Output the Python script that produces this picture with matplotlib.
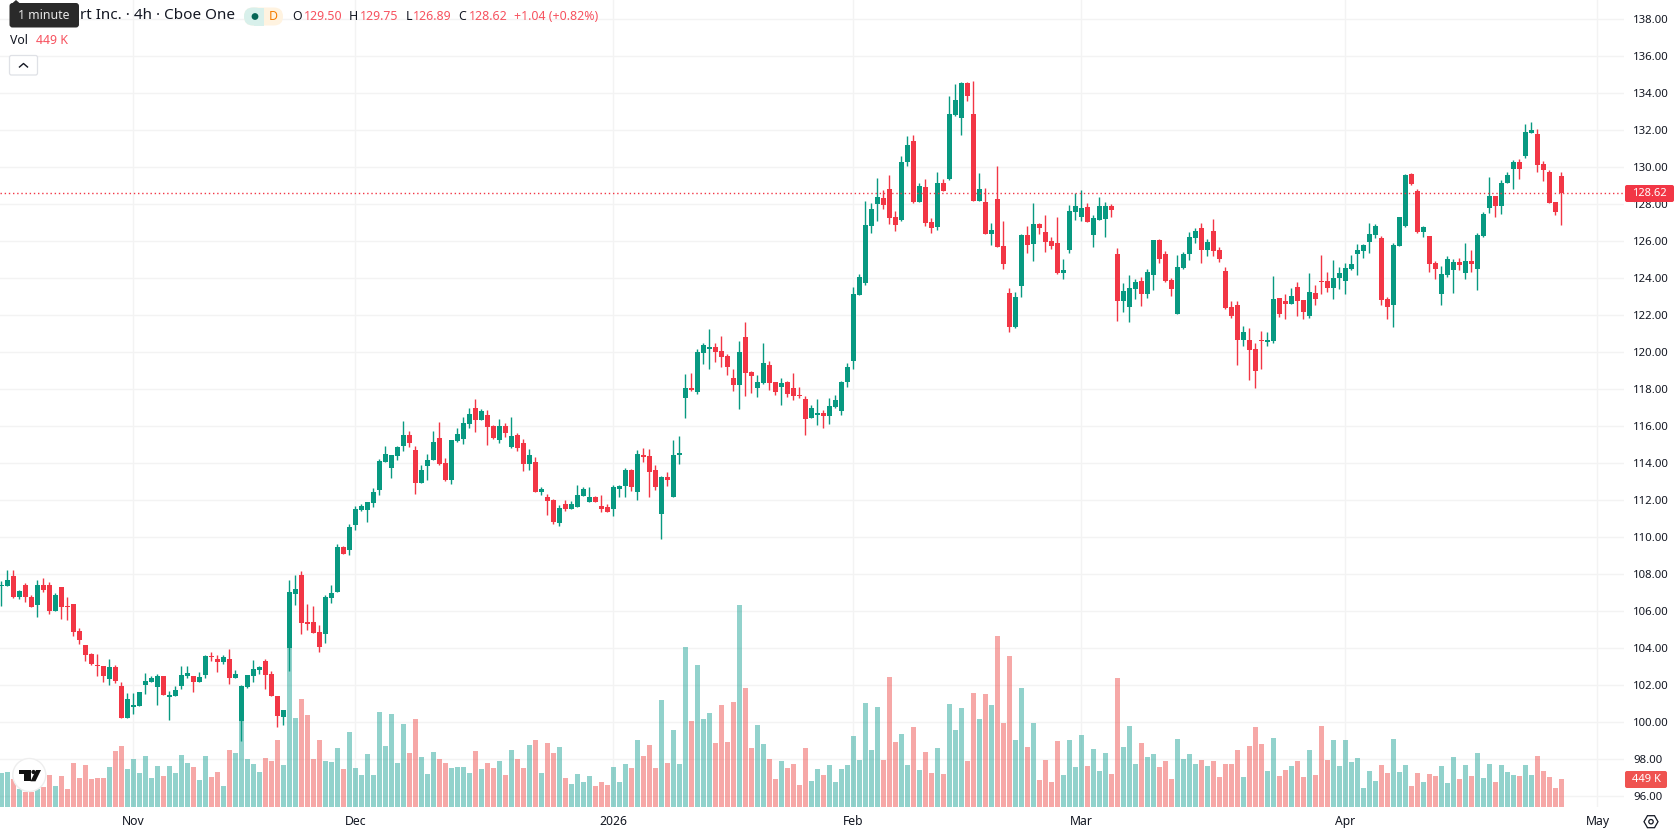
import matplotlib
matplotlib.use('Agg')
import matplotlib.pyplot as plt
from matplotlib.patches import Circle, FancyBboxPatch, Polygon, Rectangle

plt.rcParams['font.family'] = ['Noto Sans', 'DejaVu Sans']

# 4h candles, oldest first
opens = [
    107.32, 107.32, 107.86, 106.72, 107.37, 106.77, 106.29, 107.37, 107.42, 105.96,
    107.26, 106.23, 106.34, 104.88, 104.13, 103.64, 103.05, 103.0, 102.29, 102.94,
    101.91, 100.18, 100.77, 100.83, 101.96, 102.13, 101.86, 102.45, 101.32, 101.37,
    101.91, 102.45, 102.45, 102.13, 102.5, 103.53, 103.37, 103.21, 103.37, 102.34,
    100.02, 101.86, 102.45, 102.77, 103.26, 102.56, 101.37, 100.23, 103.96, 106.88,
    107.91, 105.37, 105.37, 104.83, 104.72, 106.67, 107.03, 109.47, 109.3, 110.66,
    111.47, 111.47, 111.85, 112.55, 114.07, 113.74, 114.39, 114.94, 115.53, 114.72,
    112.93, 113.85, 114.18, 115.37, 114.01, 113.09, 115.21, 115.31, 116.13, 116.99,
    116.34, 116.61, 116.02, 115.26, 116.02, 114.88, 115.53, 115.1, 113.96, 114.07,
    112.44, 112.17, 112.01, 110.77, 111.8, 111.53, 111.59, 112.23, 111.91, 112.18,
    111.69, 111.59, 111.53, 112.61, 112.77, 113.64, 112.4, 114.45, 114.4, 113.59,
    111.26, 113.26, 112.13, 114.45, 117.53, 118.07, 117.86, 119.96, 120.18, 120.29,
    120.07, 119.8, 118.61, 118.23, 120.83, 118.94, 118.07, 118.34, 119.32, 118.4,
    118.13, 118.4, 118.07, 117.69, 117.48, 116.45, 116.61, 116.72, 116.56, 117.05,
    116.83, 118.4, 119.53, 123.1, 123.75, 126.83, 128.02, 128.34, 128.83, 127.31,
    127.15, 130.29, 131.42, 128.13, 128.94, 127.05, 126.77, 129.15, 129.37, 132.83,
    132.67, 134.56, 132.88, 128.18, 128.13, 126.4, 128.29, 125.75, 123.21, 121.37,
    123.59, 126.34, 125.86, 126.94, 126.5, 126.02, 125.91, 124.29, 125.53, 127.59,
    127.32, 127.86, 126.34, 127.15, 127.21, 127.91, 125.32, 122.77, 122.45, 123.42,
    123.86, 123.15, 124.18, 126.07, 125.32, 123.91, 122.07, 124.56, 125.32, 126.18,
    126.72, 125.53, 126.56, 125.53, 124.4, 122.45, 122.56, 120.67, 120.67, 120.18,
    120.67, 120.56, 120.61, 122.94, 122.77, 122.61, 123.53, 122.83, 121.96, 123.21,
    123.86, 123.86, 123.48, 124.02, 123.86, 124.5, 125.32, 125.48, 125.96, 126.34,
    126.18, 122.88, 122.56, 125.75, 126.83, 129.64, 128.72, 126.5, 126.29, 124.83,
    123.15, 124.18, 124.45, 124.88, 124.29, 124.94, 124.5, 126.29, 127.8, 128.45,
    127.91, 129.15, 129.91, 130.29, 130.61, 131.86, 131.8, 130.18, 129.75, 128.13,
    129.50,
]
highs = [
    107.59, 108.18, 108.23, 107.1, 107.48, 106.83, 107.64, 107.75, 107.53, 106.94,
    107.26, 106.72, 106.34, 105.05, 104.13, 103.69, 103.64, 103.0, 103.37, 103.05,
    102.13, 101.53, 101.53, 101.59, 102.61, 102.45, 102.56, 102.45, 101.64, 101.91,
    102.99, 102.99, 102.45, 102.67, 103.59, 103.75, 103.59, 103.59, 103.91, 102.77,
    101.96, 102.5, 103.32, 102.99, 103.37, 102.72, 101.37, 100.61, 107.69, 107.91,
    108.13, 106.34, 106.23, 105.21, 106.83, 107.42, 109.63, 109.52, 110.71, 111.69,
    111.79, 111.9, 112.66, 114.23, 114.94, 114.45, 114.94, 116.29, 115.75, 114.94,
    113.91, 114.5, 115.75, 116.23, 114.29, 115.26, 115.91, 116.51, 116.99, 117.48,
    116.94, 116.88, 116.07, 116.4, 116.18, 116.51, 115.64, 115.31, 114.77, 114.34,
    112.72, 112.34, 112.07, 111.74, 112.02, 111.96, 112.83, 112.67, 112.72, 112.23,
    112.29, 111.8, 112.83, 112.83, 113.75, 113.69, 114.72, 114.83, 114.77, 113.91,
    113.31, 113.53, 115.26, 115.48, 118.83, 118.88, 120.18, 120.5, 121.26, 120.5,
    120.88, 119.91, 119.1, 120.61, 121.64, 118.99, 118.77, 120.5, 119.53, 118.4,
    118.61, 118.45, 118.88, 118.13, 117.64, 117.15, 117.48, 116.88, 117.53, 117.69,
    118.45, 119.42, 123.53, 124.23, 128.18, 128.07, 129.42, 128.77, 129.59, 127.64,
    130.61, 131.69, 131.75, 129.15, 129.37, 127.26, 129.75, 129.37, 133.86, 134.5,
    134.61, 134.61, 134.67, 129.69, 128.88, 126.99, 130.07, 127.1, 123.48, 123.26,
    126.4, 126.83, 128.07, 126.99, 127.42, 126.23, 127.32, 125.05, 127.96, 128.61,
    128.77, 128.07, 127.42, 128.4, 128.13, 128.02, 125.64, 123.75, 124.18, 123.96,
    124.07, 124.5, 126.07, 126.13, 125.48, 124.02, 125.26, 125.42, 126.5, 126.72,
    126.99, 126.13, 127.21, 125.69, 124.61, 122.77, 122.77, 121.42, 121.31, 120.5,
    121.15, 121.1, 124.13, 122.94, 123.15, 123.48, 123.8, 122.83, 124.29, 123.64,
    125.26, 124.34, 124.99, 124.61, 124.83, 125.26, 125.86, 125.86, 126.99, 126.94,
    126.29, 122.99, 125.91, 127.32, 129.64, 129.69, 128.83, 126.83, 126.29, 124.94,
    124.67, 125.21, 125.05, 125.1, 125.91, 125.53, 126.45, 127.59, 129.48, 128.45,
    129.32, 129.75, 130.4, 130.45, 132.34, 132.45, 132.07, 130.34, 129.86, 128.13,
    129.75,
]
lows = [
    106.25, 107.32, 106.67, 106.61, 106.5, 106.18, 105.64, 106.99, 105.8, 105.96,
    105.53, 105.48, 104.61, 104.18, 103.26, 103.05, 102.45, 102.13, 101.96, 102.07,
    100.18, 100.18, 100.4, 100.83, 101.48, 102.13, 100.88, 101.42, 100.07, 101.37,
    101.75, 102.34, 101.59, 102.13, 102.34, 103.26, 102.67, 103.1, 102.02, 102.34,
    98.94, 101.8, 102.13, 102.56, 101.75, 101.37, 99.69, 99.8, 102.72, 106.29,
    104.72, 104.94, 104.77, 103.75, 104.23, 106.4, 107.03, 109.09, 109.03, 110.39,
    111.42, 110.82, 111.63, 112.28, 114.07, 113.2, 114.18, 114.66, 114.88, 112.34,
    112.93, 113.09, 114.18, 113.91, 113.04, 112.88, 115.15, 115.04, 115.91, 115.69,
    116.34, 114.99, 115.31, 115.1, 115.42, 114.83, 114.66, 113.58, 113.64, 112.44,
    112.28, 111.2, 110.71, 110.6, 111.42, 111.53, 111.59, 112.23, 111.91, 111.86,
    111.37, 111.37, 111.15, 112.18, 112.18, 112.5, 112.02, 114.07, 112.13, 112.56,
    109.86, 112.77, 112.13, 113.96, 116.45, 117.91, 117.75, 119.37, 119.1, 119.48,
    119.21, 118.77, 117.91, 116.94, 117.64, 117.8, 117.59, 118.29, 117.96, 117.69,
    117.15, 117.59, 117.42, 117.53, 115.53, 116.45, 116.07, 115.91, 116.13, 116.99,
    116.61, 118.13, 119.1, 123.1, 123.64, 126.45, 127.1, 127.75, 126.94, 126.56,
    127.1, 130.07, 128.07, 128.13, 126.83, 126.45, 126.61, 128.72, 129.32, 132.77,
    131.75, 133.59, 128.18, 128.18, 126.4, 125.8, 125.69, 124.5, 121.1, 121.32,
    122.99, 125.37, 124.94, 126.4, 125.42, 125.59, 124.23, 123.96, 125.37, 127.15,
    127.1, 127.05, 125.69, 127.15, 126.23, 127.32, 121.69, 122.18, 121.64, 122.88,
    122.5, 122.94, 123.37, 124.83, 123.8, 123.05, 122.07, 124.5, 124.99, 125.91,
    124.83, 125.21, 125.21, 124.88, 122.34, 121.86, 119.32, 120.34, 118.5, 118.07,
    119.1, 120.34, 120.5, 121.91, 121.8, 122.61, 121.96, 121.8, 121.86, 122.56,
    123.15, 123.26, 122.88, 123.42, 123.15, 124.45, 124.18, 125.1, 125.37, 126.18,
    122.56, 121.8, 121.37, 125.75, 126.77, 129.05, 126.45, 126.23, 124.34, 123.96,
    122.56, 124.07, 123.21, 124.45, 123.96, 124.34, 123.37, 126.23, 127.53, 127.32,
    127.48, 129.15, 128.83, 129.37, 130.5, 131.86, 129.75, 129.26, 128.07, 127.42,
    126.89,
]
closes = [
    107.37, 107.69, 106.77, 107.05, 106.72, 106.18, 107.37, 107.1, 105.96, 106.83,
    106.18, 106.18, 104.83, 104.4, 103.59, 103.1, 103.0, 102.45, 102.94, 102.18,
    100.18, 101.21, 100.88, 101.59, 102.18, 102.34, 102.45, 101.42, 101.42, 101.69,
    102.5, 102.61, 102.13, 102.4, 103.53, 103.5, 103.21, 103.48, 102.34, 102.56,
    101.91, 102.5, 102.83, 102.94, 102.5, 101.37, 100.29, 100.61, 106.99, 107.15,
    105.32, 105.26, 104.77, 104.02, 106.72, 106.94, 109.47, 109.09, 110.55, 111.52,
    111.69, 111.9, 112.44, 114.12, 114.5, 114.45, 114.88, 115.53, 115.1, 112.93,
    113.64, 114.18, 115.15, 113.96, 113.09, 115.26, 115.58, 116.18, 116.67, 116.34,
    116.83, 115.96, 115.37, 116.02, 115.64, 115.48, 114.83, 113.96, 114.45, 112.44,
    112.61, 111.96, 110.82, 111.58, 111.53, 111.8, 112.29, 112.61, 112.18, 111.91,
    111.53, 111.37, 112.67, 112.77, 113.59, 112.67, 114.5, 114.34, 113.53, 112.72,
    113.26, 113.05, 114.45, 114.56, 118.07, 117.96, 120.02, 120.4, 120.29, 120.02,
    119.75, 119.21, 118.23, 120.02, 118.88, 118.72, 118.4, 119.42, 118.34, 117.86,
    118.34, 117.75, 117.64, 117.64, 116.4, 116.99, 116.72, 116.56, 117.1, 117.42,
    118.4, 119.21, 123.15, 124.07, 126.88, 127.75, 128.4, 127.96, 127.26, 126.88,
    130.29, 131.21, 128.13, 128.99, 126.99, 126.72, 129.15, 128.72, 132.88, 133.64,
    134.56, 133.86, 128.18, 128.83, 126.4, 126.61, 125.69, 124.77, 121.37, 122.99,
    126.34, 125.8, 126.94, 126.72, 125.96, 125.75, 124.29, 124.45, 127.64, 127.91,
    127.8, 127.05, 127.26, 127.91, 127.91, 127.69, 122.77, 123.32, 123.48, 123.8,
    123.15, 124.34, 126.07, 125.05, 123.86, 123.42, 124.61, 125.32, 126.23, 126.56,
    125.53, 125.96, 125.48, 125.05, 122.4, 121.96, 120.67, 121.1, 120.13, 118.99,
    120.61, 120.67, 122.88, 122.07, 122.61, 123.05, 122.77, 122.18, 123.26, 122.88,
    123.8, 123.48, 124.02, 124.29, 124.56, 124.77, 125.53, 125.8, 126.4, 126.83,
    122.83, 122.45, 125.8, 127.32, 129.59, 129.1, 126.5, 126.77, 124.77, 124.5,
    124.23, 125.05, 124.88, 124.72, 124.94, 124.77, 126.34, 127.48, 128.45, 127.91,
    129.15, 129.59, 130.29, 129.91, 131.91, 132.02, 130.13, 129.86, 128.07, 127.58,
    128.62,
]
# volume in thousands of shares
volume_k = [
    540, 556, 444, 294, 241, 241, 283, 315, 508, 331,
    492, 283, 700, 460, 668, 444, 460, 460, 636, 893,
    973, 604, 764, 540, 812, 460, 652, 492, 652, 540,
    828, 700, 636, 428, 812, 476, 556, 331, 909, 861,
    1497, 764, 684, 556, 780, 732, 1069, 668, 2672, 1422,
    1726, 1470, 764, 1069, 732, 716, 941, 604, 1197, 625,
    513, 850, 513, 1523, 978, 1491, 706, 1331, 866, 1411,
    802, 529, 882, 770, 706, 625, 641, 641, 545, 898,
    609, 706, 625, 738, 513, 914, 770, 625, 994, 1074,
    545, 1026, 866, 962, 465, 369, 529, 401, 497, 337,
    401, 353, 641, 401, 690, 625, 1074, 818, 994, 625,
    1716, 706, 1235, 690, 2566, 1379, 2277, 1411, 1507, 1026,
    1636, 1042, 1684, 3239, 1908, 946, 1315, 1010, 770, 449,
    738, 625, 690, 353, 946, 417, 609, 513, 673, 401,
    609, 673, 1138, 754, 1668, 914, 1604, 754, 2085, 1042,
    1171, 673, 1283, 593, 882, 545, 946, 529, 1652, 1235,
    1587, 738, 1828, 1411, 1812, 1636, 2742, 1347, 2421, 1074,
    1908, 962, 1347, 433, 754, 401, 1058, 513, 1074, 641,
    1155, 657, 930, 577, 866, 529, 2069, 962, 1299, 690,
    1026, 802, 850, 641, 738, 449, 1090, 770, 850, 690,
    754, 657, 738, 481, 690, 690, 914, 481, 978, 1283,
    1010, 577, 1106, 497, 593, 657, 738, 481, 914, 513,
    1299, 754, 1074, 657, 1074, 722, 786, 305, 577, 417,
    673, 545, 1090, 561, 673, 337, 545, 401, 529, 497,
    657, 385, 802, 449, 673, 497, 866, 465, 690, 401,
    673, 561, 513, 497, 673, 513, 818, 577, 481, 305,
    449,
]

price_ticks = list(range(96, 140, 2))
time_ticks = [22, 59, 102, 142, 180, 224, 266]
time_labels = ['Nov', 'Dec', '2026', 'Feb', 'Mar', 'Apr', 'May']
last_price = 128.62
last_volume = '449 K'

UP = '#089981'
DOWN = '#f23645'
UP_VOL = (0.149, 0.651, 0.604, 0.5)
DOWN_VOL = (0.937, 0.325, 0.314, 0.5)
GRID = '#f3f3f3'
TEXT = '#131722'
HEAD_RED = '#f7525f'

W, H = 1678, 835
PLOT_W, PLOT_H = 1624, 807
XLIM = (-0.25, 270.417)
YLIM = (95.38, 139.05)  # 18.48 px per dollar
pane = [0, (H - PLOT_H) / H, PLOT_W / W, PLOT_H / H]
fig = plt.figure(figsize=(W / 100, H / 100), dpi=100, facecolor='white')

# grid and axis labels at the back
ax = fig.add_axes(pane, zorder=1)
ax.set_xlim(*XLIM)
ax.set_ylim(*YLIM)
for s in ax.spines.values():
    s.set_visible(False)
ax.grid(True, color=GRID, linewidth=1.0)
ax.yaxis.tick_right()
ax.set_yticks(price_ticks)
ax.set_yticklabels(['%.2f' % t for t in price_ticks])
ax.set_xticks(time_ticks)
ax.set_xticklabels(time_labels)
ax.tick_params(axis='y', length=0, pad=6.5, labelsize=8.2, labelcolor=TEXT)
ax.tick_params(axis='x', length=0, pad=6, labelsize=8.8, labelcolor=TEXT)
ax.get_xticklabels()[2].set_fontweight('bold')

idx = list(range(len(opens)))

# volume pane over the grid, 449K is 28 px tall
vol_ax = fig.add_axes(pane, zorder=2)
vol_ax.set_xlim(*XLIM)
vol_ax.set_ylim(0, 12941)
vol_ax.axis('off')
vol_colors = [UP_VOL if c >= o else DOWN_VOL for o, c in zip(opens, closes)]
vol_ax.bar(idx, volume_k, width=5 / 6, color=vol_colors, linewidth=0)

# candles: wick first, then body on top
candle_ax = fig.add_axes(pane, zorder=3)
candle_ax.set_xlim(*XLIM)
candle_ax.set_ylim(*YLIM)
candle_ax.axis('off')
colors = [UP if c >= o else DOWN for o, c in zip(opens, closes)]
candle_ax.vlines(idx, lows, highs, colors=colors, linewidth=1.0, zorder=3)
bottoms = [min(o, c) for o, c in zip(opens, closes)]
heights = [max(abs(c - o), 0.06) for o, c in zip(opens, closes)]
candle_ax.bar(idx, heights, bottom=bottoms, width=5 / 6, color=colors, linewidth=0, zorder=4)
candle_ax.axhline(last_price, color=DOWN, linewidth=1.0, linestyle=(0, (1, 2)), zorder=5)

# everything else sits on a pixel overlay
ui = fig.add_axes([0, 0, 1, 1], zorder=5)
ui.set_xlim(0, W)
ui.set_ylim(H, 0)
ui.axis('off')


def label(x, y, s, color=TEXT, size=8.9, **kw):
    ui.text(x, y, s, color=color, fontsize=size, va='center', ha=kw.pop('ha', 'left'), **kw)


# last price and last volume tags
ui.add_patch(FancyBboxPatch((1625, 185), 49, 17, boxstyle='round,pad=0,rounding_size=2', fc=DOWN, ec='none'))
label(1649.5, 193.5, '%.2f' % last_price, color='white', size=8.0, ha='center')
ui.add_patch(FancyBboxPatch((1625, 771), 42, 17, boxstyle='round,pad=0,rounding_size=2', fc='#ef5350', ec='none'))
label(1646, 779.5, last_volume, color='white', size=8.0, ha='center')

# legend rows
label(80.5, 15.5, 'rt Inc. · 4h · Cboe One', size=11.0)
ui.add_patch(FancyBboxPatch((244, 7.5), 39, 18, boxstyle='round,pad=0,rounding_size=9', fc='#fff3e0', ec='none'))
ui.add_patch(FancyBboxPatch((244, 7.5), 20, 18, boxstyle='round,pad=0,rounding_size=9', fc='#d8f0eb', ec='none'))
ui.add_patch(Rectangle((254, 7.5), 10, 18, fc='#d8f0eb', ec='none'))
ui.add_patch(Circle((255, 16.5), 3.4, fc='#056656', ec='none'))
label(273, 16, 'D', color='#f57c00', size=8.9, ha='center', fontweight='medium')
for x, s in [(292, 'O'), (349, 'H'), (405.5, 'L'), (458.5, 'C')]:
    label(x, 16, s)
for x, s in [(303.5, '129.50'), (360, '129.75'), (413, '126.89'), (468.5, '128.62'), (514, '+1.04 (+0.82%)')]:
    label(x, 16, s, color=HEAD_RED)
label(9.5, 40, 'Vol')
label(36.5, 40, last_volume, color=HEAD_RED)

# collapse button
ui.add_patch(FancyBboxPatch((9.5, 55.5), 28, 19.5, boxstyle='round,pad=0,rounding_size=2', fc='white', ec='#dfe1e6', lw=0.9))
ui.plot([19.5, 23.5, 27.5], [67, 63.5, 67], color=TEXT, lw=1.0)

# tooltip
ui.add_patch(Polygon([(12, 3.5), (16, 0), (20, 3.5)], fc='#2a2a2a', ec='none'))
ui.add_patch(FancyBboxPatch((9.5, 3), 69.5, 24.5, boxstyle='round,pad=0,rounding_size=3', fc='#2a2a2a', ec='none'))
label(44, 15.5, '1 minute', color='#e8e8e8', ha='center')

# logo badge
ui.add_patch(Circle((29.3, 775), 16.5, fc='white', ec='#eeeeee', lw=1.0))
ui.add_patch(Polygon([(19, 770), (31, 770), (31, 781.3), (24, 781.3), (24, 774.3), (19, 774.3)], fc='#111111', ec='none'))
ui.add_patch(Circle((33.5, 772), 2.1, fc='#111111', ec='none'))
ui.add_patch(Polygon([(36, 770), (41, 770), (35.5, 781.3), (30.5, 781.3)], fc='#111111', ec='none'))

# settings hexagon
ui.add_patch(Polygon([(1644, 821.7), (1647.5, 815.7), (1654.5, 815.7), (1658, 821.7), (1654.5, 827.7), (1647.5, 827.7)],
                     fc='white', ec=TEXT, lw=0.9))
ui.add_patch(Circle((1651, 821.7), 2.2, fc='white', ec=TEXT, lw=0.9))

fig.savefig('out.png', dpi=100)
